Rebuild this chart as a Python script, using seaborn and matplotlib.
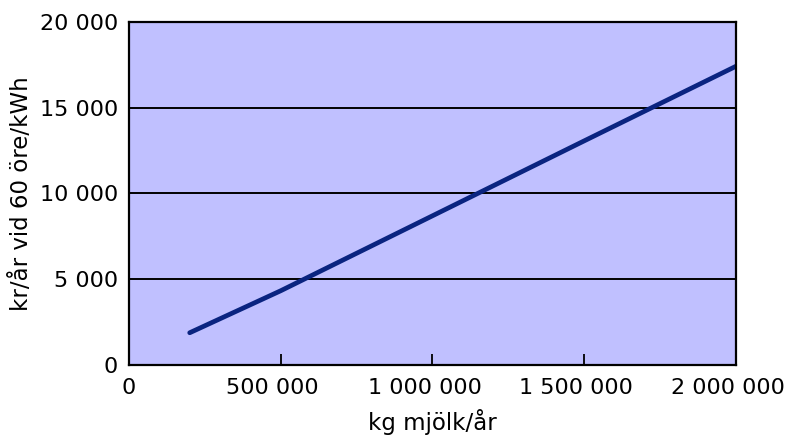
import matplotlib
matplotlib.use("Agg")
import matplotlib.pyplot as plt
import matplotlib.transforms as mtransforms
import seaborn as sns
import pandas as pd
from matplotlib.ticker import FuncFormatter

milk_kg = [200000, 500000, 1000000, 1500000, 2000000]
cost_kr = [1880, 4330, 8700, 13070, 17420]
x_ticks = [0, 500000, 1000000, 1500000, 2000000]
y_ticks = [0, 5000, 10000, 15000, 20000]
x_label = "kg mjölk/år"
y_label = "kr/år vid 60 öre/kWh"

sns.set_theme(style="white")
plt.rcParams['font.family'] = ['DejaVu Sans']

df = pd.DataFrame({"x": milk_kg, "y": cost_kr})

fig = plt.figure(figsize=(7.88, 4.37), dpi=100)
ax = fig.add_axes([129/788, 1-365/437, (736-129)/788, (365-22)/437])
ax.set_facecolor("#C0C0FF")

sns.lineplot(data=df, x="x", y="y", ax=ax, color="#0A2480", linewidth=3.4, zorder=3)

ax.set_xlim(0, 2000000)
ax.set_ylim(0, 20000)
ax.set_xticks(x_ticks)
ax.set_yticks(y_ticks)

fmt = FuncFormatter(lambda v, p: f"{int(v):,}".replace(",", " "))
ax.xaxis.set_major_formatter(fmt)
ax.yaxis.set_major_formatter(fmt)

for yv in y_ticks[1:-1]:
    ax.axhline(yv, color="black", linewidth=1.4, zorder=2)

for s in ax.spines.values():
    s.set_color("black")
    s.set_linewidth(1.6)
    s.set_zorder(4)

ax.tick_params(axis="x", bottom=True, direction="in", length=8, width=1.3, color="black",
               labelsize=16, pad=9, labelcolor="black")
ax.tick_params(axis="y", left=False, length=0, labelsize=16, pad=8, labelcolor="black")

ax.set_xlabel(x_label, fontsize=16.5, color="black", labelpad=8)
ax.set_ylabel(y_label, fontsize=16.5, color="black", labelpad=5)

fig.canvas.draw()
shift = mtransforms.ScaledTranslation(-8/100, 0, fig.dpi_scale_trans)
for lbl in ax.get_xticklabels():
    if len(lbl.get_text()) > 1:
        lbl.set_transform(lbl.get_transform() + shift)

fig.savefig("out.png", dpi=100, facecolor="white")
